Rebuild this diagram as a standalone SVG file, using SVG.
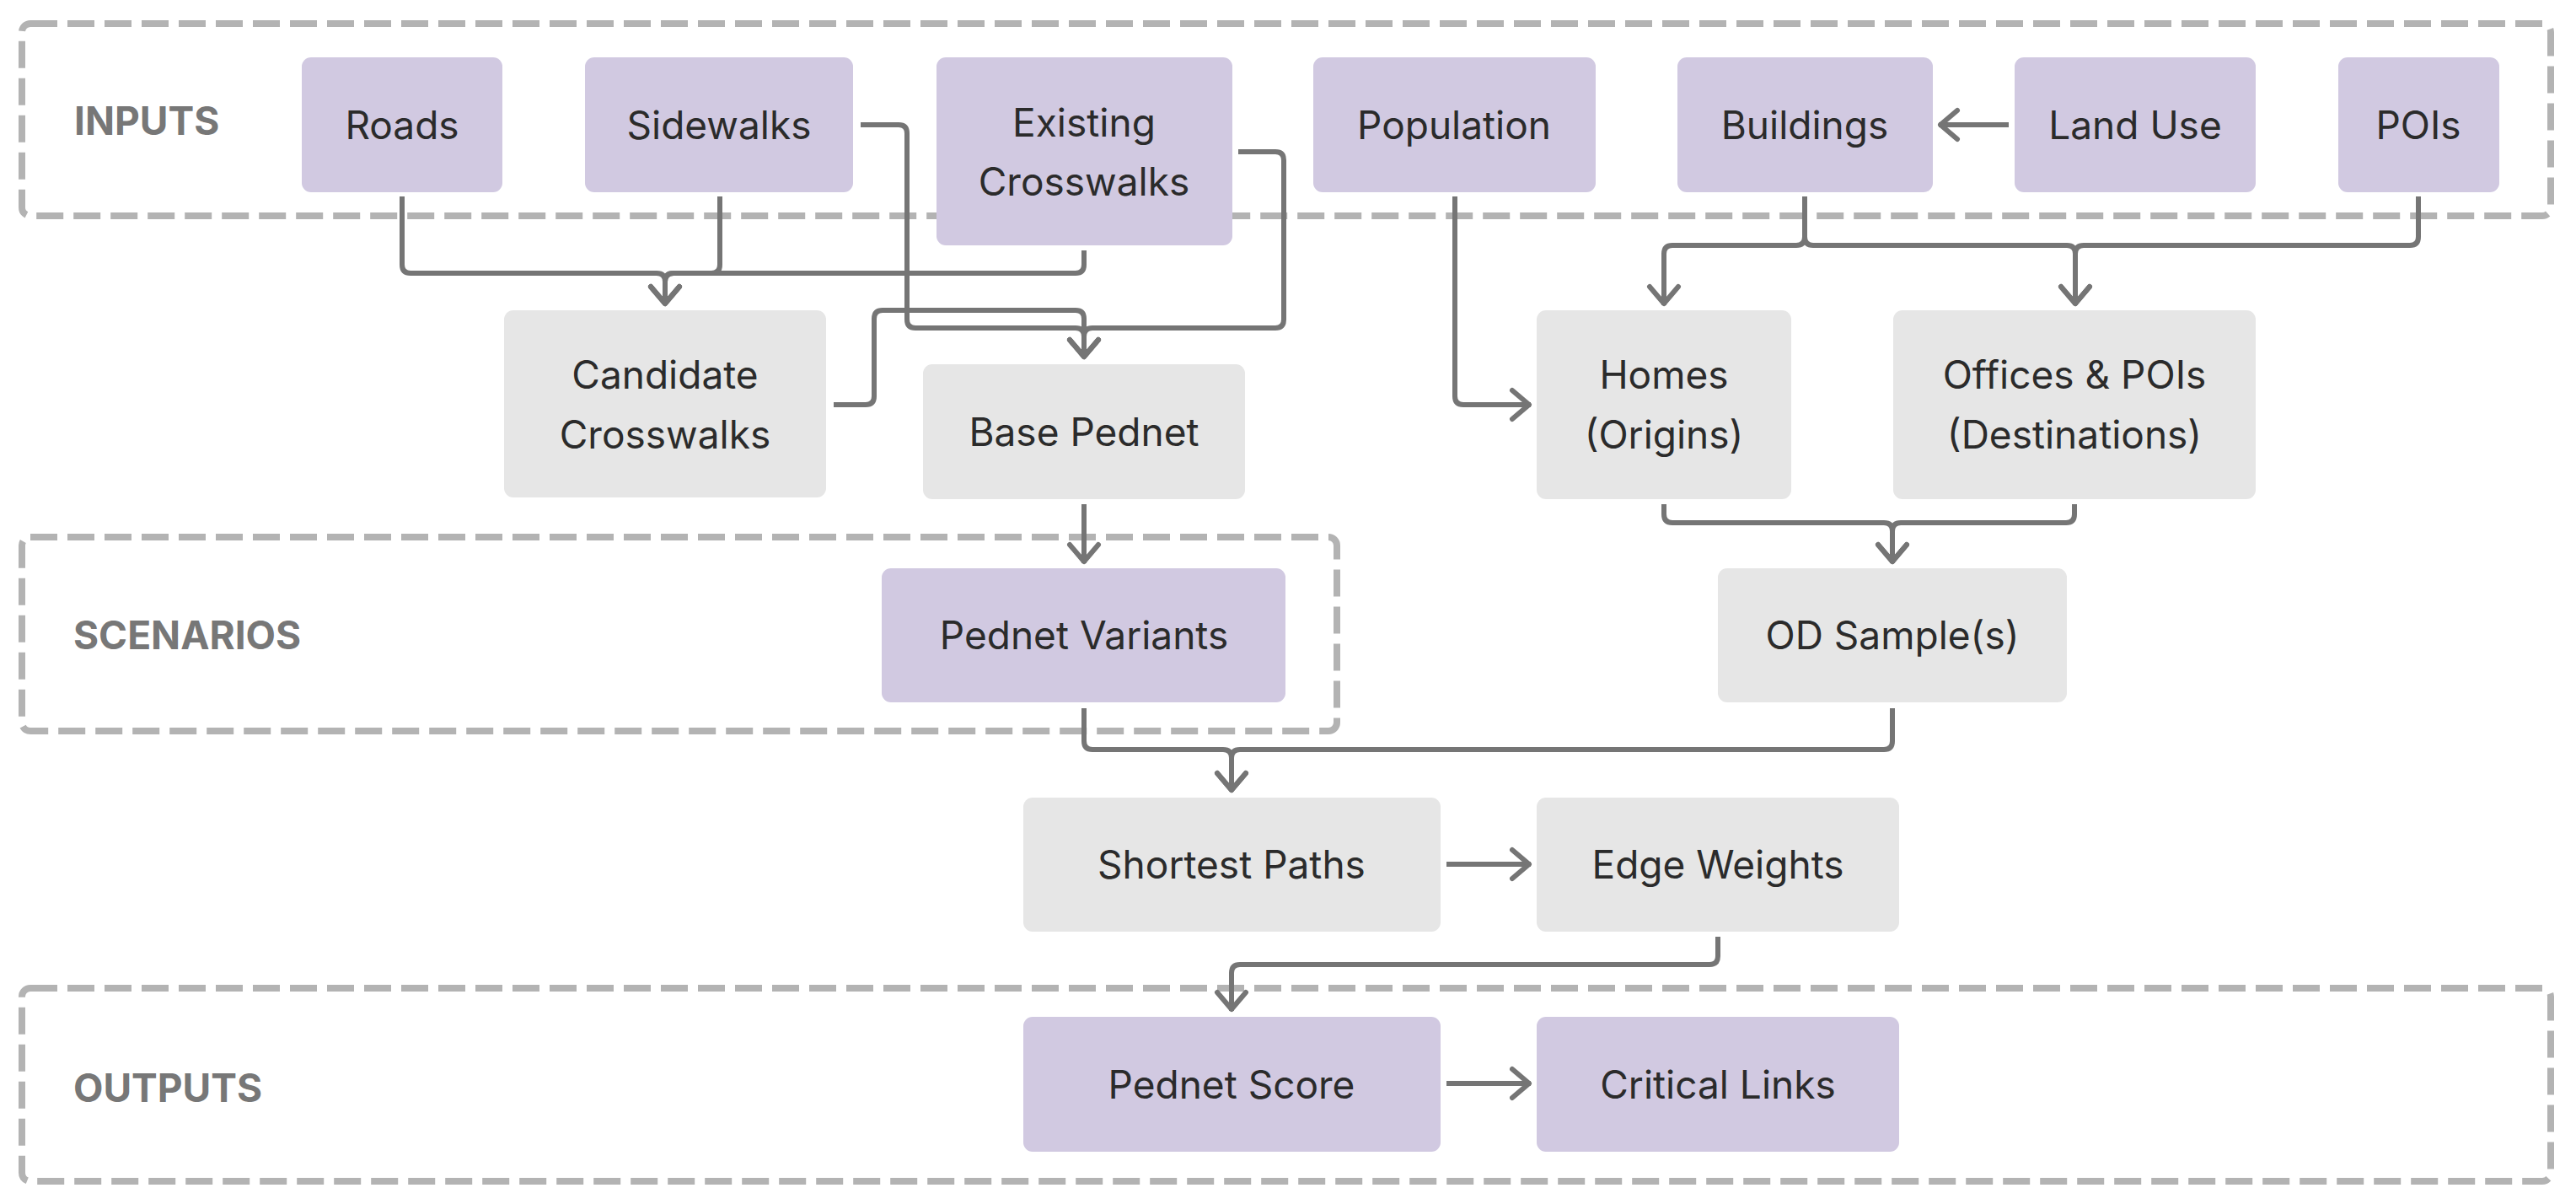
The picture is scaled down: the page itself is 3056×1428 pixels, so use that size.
<svg xmlns="http://www.w3.org/2000/svg" width="3056" height="1428" viewBox="0 0 3056 1428">
<style>
.grp{fill:none;stroke:#b3b3b3;stroke-width:8;stroke-dasharray:32 12}
.glbl{font-family:Inter,"Liberation Sans",sans-serif;font-size:46px;font-weight:700;fill:#777777}
.in{fill:#d1c9e1}
.pr{fill:#e6e6e6}
.t{font-family:Inter,"Liberation Sans",sans-serif;font-size:46px;fill:#2b2b2b;text-anchor:middle}
.c{fill:none;stroke:#757575;stroke-width:6;stroke-linejoin:round}
</style>
<defs>
<marker id="ah" markerUnits="userSpaceOnUse" markerWidth="40" markerHeight="44" refX="2" refY="0" viewBox="-30 -22 34 44" orient="auto" overflow="visible">
<path d="M-20,-17 L0,0 L-20,17" fill="none" stroke="#757575" stroke-width="6" stroke-linecap="round" stroke-linejoin="round"/>
</marker>
</defs>
<rect width="3056" height="1428" fill="#ffffff"/>
<g id="group-inputs"><rect class="grp" x="26" y="28" width="3000" height="228" rx="10"/><text class="glbl" x="88" y="160">INPUTS</text></g>
<g id="group-scenarios"><rect class="grp" x="26" y="637" width="1560" height="230" rx="10"/><text class="glbl" x="87" y="770">SCENARIOS</text></g>
<g id="group-outputs"><rect class="grp" x="26" y="1172" width="3000" height="229" rx="10"/><text class="glbl" x="87" y="1307">OUTPUTS</text></g>

<g id="connectors">
<path class="c" marker-end="url(#ah)" d="M477,233 V314 Q477,324 487,324 H779 Q789,324 789,334 V362"/>
<path class="c" marker-end="url(#ah)" d="M854,233 V314 Q854,324 844,324 H799 Q789,324 789,334 V362"/>
<path class="c" marker-end="url(#ah)" d="M1286,297 V314 Q1286,324 1276,324 H799 Q789,324 789,334 V362"/>
<path class="c" marker-end="url(#ah)" d="M1021,148 H1066 Q1076,148 1076,158 V379 Q1076,389 1086,389 H1276 Q1286,389 1286,399 V425"/>
<path class="c" marker-end="url(#ah)" d="M1469,180 H1513 Q1523,180 1523,190 V379 Q1523,389 1513,389 H1296 Q1286,389 1286,399 V425"/>
<path class="c" marker-end="url(#ah)" d="M989,480 H1027 Q1037,480 1037,470 V378 Q1037,368 1047,368 H1276 Q1286,368 1286,378 V425"/>
<path class="c" marker-end="url(#ah)" d="M1726,233 V470 Q1726,480 1736,480 H1816"/>
<path class="c" marker-end="url(#ah)" d="M2141,233 V281 Q2141,291 2131,291 H1984 Q1974,291 1974,301 V362"/>
<path class="c" marker-end="url(#ah)" d="M2141,233 V281 Q2141,291 2151,291 H2452 Q2462,291 2462,301 V362"/>
<path class="c" marker-end="url(#ah)" d="M2869,233 V281 Q2869,291 2859,291 H2472 Q2462,291 2462,301 V362"/>
<path class="c" marker-end="url(#ah)" d="M2383,148 H2300"/>
<path class="c" marker-end="url(#ah)" d="M1286,598 V668"/>
<path class="c" marker-end="url(#ah)" d="M1974,598 V610 Q1974,620 1984,620 H2235 Q2245,620 2245,630 V668"/>
<path class="c" marker-end="url(#ah)" d="M2461,598 V610 Q2461,620 2451,620 H2255 Q2245,620 2245,630 V668"/>
<path class="c" marker-end="url(#ah)" d="M1286,840 V879 Q1286,889 1296,889 H1451 Q1461,889 1461,899 V939"/>
<path class="c" marker-end="url(#ah)" d="M2245,840 V879 Q2245,889 2235,889 H1471 Q1461,889 1461,899 V939"/>
<path class="c" marker-end="url(#ah)" d="M1716,1025 H1816"/>
<path class="c" marker-end="url(#ah)" d="M2038,1111 V1134 Q2038,1144 2028,1144 H1471 Q1461,1144 1461,1154 V1199"/>
<path class="c" marker-end="url(#ah)" d="M1716,1285 H1816"/>
</g>

<g id="roads"><rect class="in" x="358" y="68" width="238" height="160" rx="11"/><text class="t" x="477" y="165">Roads</text></g>
<g id="sidewalks"><rect class="in" x="694" y="68" width="318" height="160" rx="11"/><text class="t" x="853" y="165">Sidewalks</text></g>
<g id="existing-crosswalks"><rect class="in" x="1111" y="68" width="351" height="223" rx="11"/><text class="t" x="1286" y="162">Existing</text><text class="t" x="1286" y="232">Crosswalks</text></g>
<g id="population"><rect class="in" x="1558" y="68" width="335" height="160" rx="11"/><text class="t" x="1725" y="165">Population</text></g>
<g id="buildings"><rect class="in" x="1990" y="68" width="303" height="160" rx="11"/><text class="t" x="2141" y="165">Buildings</text></g>
<g id="land-use"><rect class="in" x="2390" y="68" width="286" height="160" rx="11"/><text class="t" x="2533" y="165">Land Use</text></g>
<g id="pois"><rect class="in" x="2774" y="68" width="191" height="160" rx="11"/><text class="t" x="2869" y="165">POIs</text></g>
<g id="candidate-crosswalks"><rect class="pr" x="598" y="368" width="382" height="222" rx="11"/><text class="t" x="789" y="461">Candidate</text><text class="t" x="789" y="532">Crosswalks</text></g>
<g id="base-pednet"><rect class="pr" x="1095" y="432" width="382" height="160" rx="11"/><text class="t" x="1286" y="529">Base Pednet</text></g>
<g id="homes"><rect class="pr" x="1823" y="368" width="302" height="224" rx="11"/><text class="t" x="1974" y="461">Homes</text><text class="t" x="1974" y="532">(Origins)</text></g>
<g id="offices-pois"><rect class="pr" x="2246" y="368" width="430" height="224" rx="11"/><text class="t" x="2461" y="461">Offices &amp; POIs</text><text class="t" x="2461" y="532">(Destinations)</text></g>
<g id="pednet-variants"><rect class="in" x="1046" y="674" width="479" height="159" rx="11"/><text class="t" x="1286" y="770">Pednet Variants</text></g>
<g id="od-samples"><rect class="pr" x="2038" y="674" width="414" height="159" rx="11"/><text class="t" x="2245" y="770">OD Sample(s)</text></g>
<g id="shortest-paths"><rect class="pr" x="1214" y="946" width="495" height="159" rx="11"/><text class="t" x="1461" y="1042">Shortest Paths</text></g>
<g id="edge-weights"><rect class="pr" x="1823" y="946" width="430" height="159" rx="11"/><text class="t" x="2038" y="1042">Edge Weights</text></g>
<g id="pednet-score"><rect class="in" x="1214" y="1206" width="495" height="160" rx="11"/><text class="t" x="1461" y="1303">Pednet Score</text></g>
<g id="critical-links"><rect class="in" x="1823" y="1206" width="430" height="160" rx="11"/><text class="t" x="2038" y="1303">Critical Links</text></g>
</svg>
